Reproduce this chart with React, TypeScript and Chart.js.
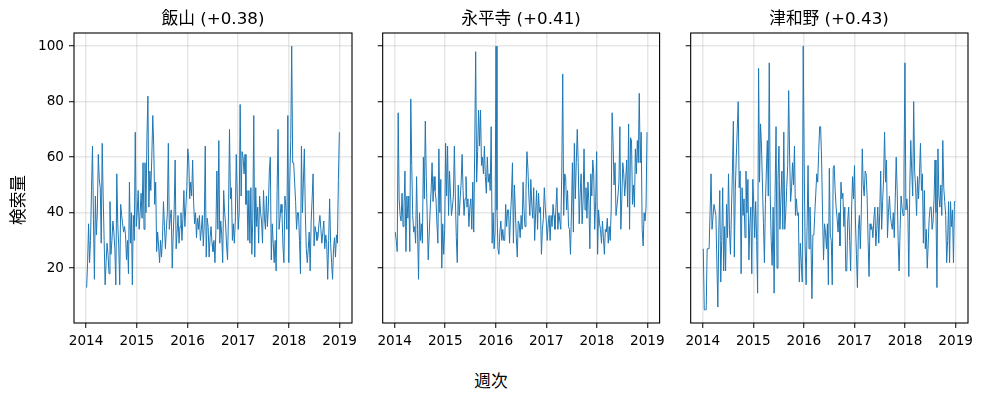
import { useEffect, useRef } from "react";
import { Chart, registerables } from "chart.js";

Chart.register(...registerables);

const FONT = '"DejaVu Sans", "Noto Sans CJK JP", sans-serif';

// weekly search volume, first week starting 2014-01-05
const firstWeek = "2014-01-05";
const yearTicks = [2014, 2015, 2016, 2017, 2018, 2019];
const volumeTicks = [20, 40, 60, 80, 100];

const titles = ["飯山 (+0.38)", "永平寺 (+0.41)", "津和野 (+0.43)"];

const iiyama = [
  13, 22, 36, 22, 30, 48, 64, 38, 16, 46, 32, 40, 61, 52, 49, 29, 65, 46, 30, 14,
  22, 29, 25, 18, 44, 25, 30, 37, 33, 27, 14, 54, 36, 28, 14, 43, 39, 36, 33, 35,
  32, 23, 30, 18, 51, 29, 40, 14, 39, 30, 69, 35, 40, 48, 34, 40, 47, 38, 58, 34,
  58, 40, 67, 82, 42, 55, 48, 60, 75, 64, 43, 51, 26, 33, 28, 22, 30, 24, 31, 44,
  35, 27, 34, 40, 65, 34, 38, 41, 20, 32, 41, 59, 27, 33, 39, 29, 35, 40, 30, 38,
  48, 35, 42, 49, 63, 59, 45, 51, 46, 59, 44, 36, 40, 31, 38, 34, 39, 30, 34, 39,
  28, 36, 64, 24, 38, 35, 24, 31, 35, 29, 26, 30, 22, 34, 55, 34, 66, 29, 37, 32,
  22, 48, 40, 36, 28, 23, 40, 70, 45, 49, 30, 36, 29, 37, 61, 46, 34, 40, 79, 46,
  62, 60, 54, 61, 43, 48, 30, 48, 29, 49, 25, 38, 75, 24, 49, 35, 42, 29, 46, 40,
  37, 29, 48, 38, 34, 46, 35, 42, 55, 60, 23, 36, 29, 22, 30, 19, 48, 70, 34, 38,
  43, 40, 28, 22, 46, 42, 34, 75, 22, 51, 66, 100, 58, 58, 51, 44, 34, 40, 40, 30,
  18, 64, 40, 51, 63, 40, 27, 22, 27, 33, 19, 37, 45, 54, 28, 35, 33, 30, 31, 36,
  39, 34, 29, 33, 37, 27, 32, 29, 16, 30, 45, 29, 22, 16, 27, 31, 24, 32, 29, 52,
  69,
];

const eiheiji = [
  33, 30, 26, 76, 45, 39, 37, 47, 35, 42, 55, 26, 46, 38, 46, 26, 81, 57, 39, 33,
  35, 29, 53, 34, 16, 40, 30, 36, 29, 60, 45, 73, 53, 38, 23, 32, 41, 48, 58, 44,
  53, 48, 45, 36, 29, 63, 40, 52, 20, 36, 25, 34, 65, 46, 64, 39, 55, 47, 39, 42,
  46, 64, 46, 31, 22, 50, 39, 45, 51, 61, 48, 39, 45, 53, 42, 45, 35, 42, 45, 34,
  51, 33, 63, 98, 51, 62, 77, 64, 77, 57, 60, 54, 64, 53, 47, 60, 51, 54, 48, 71,
  29, 40, 27, 33, 100, 41, 27, 25, 33, 37, 30, 34, 30, 30, 43, 35, 41, 41, 29, 39,
  46, 58, 29, 50, 41, 31, 24, 37, 36, 31, 39, 34, 51, 41, 35, 48, 62, 56, 46, 39,
  52, 43, 38, 49, 30, 40, 48, 34, 47, 40, 42, 25, 34, 38, 49, 42, 37, 30, 36, 39,
  30, 39, 35, 43, 39, 34, 42, 49, 34, 40, 37, 34, 54, 90, 39, 54, 53, 41, 48, 35,
  34, 25, 40, 58, 33, 65, 45, 58, 70, 58, 36, 47, 54, 36, 44, 63, 41, 49, 38, 51,
  44, 27, 54, 46, 59, 54, 34, 44, 62, 25, 41, 36, 34, 29, 37, 31, 25, 34, 33, 38,
  29, 35, 30, 41, 76, 65, 50, 58, 39, 39, 46, 51, 71, 34, 45, 58, 54, 46, 52, 59,
  42, 72, 34, 67, 66, 43, 50, 42, 63, 54, 66, 58, 83, 58, 69, 34, 28, 40, 37, 42,
  69,
];

const tsuwano = [
  27, 5, 5, 5, 27, 27, 27, 40, 54, 34, 34, 43, 41, 39, 22, 6, 33, 48, 15, 30,
  49, 19, 35, 19, 43, 31, 54, 34, 25, 40, 55, 73, 24, 48, 60, 70, 80, 49, 55, 18,
  49, 39, 45, 31, 55, 40, 52, 23, 36, 42, 18, 52, 43, 31, 44, 30, 11, 92, 51, 72,
  64, 50, 36, 22, 43, 55, 66, 46, 94, 46, 30, 21, 42, 11, 47, 71, 20, 52, 64, 34,
  45, 55, 34, 69, 34, 40, 49, 57, 84, 60, 44, 49, 58, 50, 64, 39, 45, 39, 40, 15,
  29, 22, 15, 100, 58, 28, 14, 35, 57, 27, 42, 30, 9, 32, 32, 40, 47, 54, 51, 62,
  71, 71, 59, 39, 23, 36, 33, 27, 36, 14, 56, 32, 30, 14, 56, 57, 48, 42, 38, 33,
  40, 28, 51, 45, 47, 35, 42, 19, 19, 37, 42, 30, 19, 41, 53, 45, 57, 37, 25, 13,
  34, 39, 27, 40, 63, 50, 46, 55, 54, 46, 30, 17, 36, 34, 35, 31, 38, 42, 28, 34,
  42, 29, 40, 55, 34, 44, 52, 69, 51, 59, 31, 40, 46, 39, 36, 34, 40, 31, 45, 60,
  48, 30, 19, 34, 46, 42, 39, 55, 94, 41, 45, 40, 17, 49, 66, 55, 46, 80, 55, 49,
  39, 53, 45, 54, 65, 48, 54, 29, 48, 27, 34, 20, 29, 38, 42, 42, 34, 37, 45, 59,
  40, 13, 63, 46, 42, 50, 39, 66, 49, 44, 39, 22, 30, 44, 22, 44, 35, 41, 22, 44,
  44,
];

const series = [iiyama, eiheiji, tsuwano];

// week start dates -> decimal years for the linear x axis
function toDecimalYear(t: number) {
  const y = new Date(t).getUTCFullYear();
  const start = Date.UTC(y, 0, 1);
  const end = Date.UTC(y + 1, 0, 1);
  return y + (t - start) / (end - start);
}
const t0 = Date.parse(firstWeek + "T00:00:00Z");
const weeks = iiyama.map((_, i) => toDecimalYear(t0 + i * 7 * 86400000));

const xSpan = weeks[weeks.length - 1] - weeks[0];
const xMin = weeks[0] - xSpan * 0.05;
const xMax = weeks[weeks.length - 1] + xSpan * 0.05;
const allValues = [...iiyama, ...eiheiji, ...tsuwano];
const yLo = Math.min(...allValues);
const yHi = Math.max(...allValues);
const yMin = yLo - (yHi - yLo) * 0.05;
const yMax = yHi + (yHi - yLo) * 0.05;

// canvas placement so the plot areas line up like the subplots
const panels = [
  { left: 0, width: 370, axisWidth: 74, padRight: 18 },
  { left: 372, width: 298, axisWidth: 10, padRight: 10 },
  { left: 680, width: 302, axisWidth: 10, padRight: 14 },
];
const CANVAS_H = 353;
const PLOT_TOP = 33;
const X_AXIS_H = 30;

const framePlugin = {
  id: "frame",
  afterDraw(chart: any) {
    const { ctx, chartArea: a } = chart;
    ctx.save();
    ctx.strokeStyle = "#000";
    ctx.lineWidth = 1.1;
    ctx.strokeRect(a.left, a.top, a.right - a.left, a.bottom - a.top);
    ctx.restore();
  },
};

function Panel({ index }: { index: number }) {
  const ref = useRef<HTMLCanvasElement | null>(null);
  const p = panels[index];

  useEffect(() => {
    if (!ref.current) return;
    const showY = index === 0;
    const grid = {
      color: "rgba(176,176,176,0.3)",
      lineWidth: 1.5,
      drawTicks: true,
      tickLength: 5,
      tickColor: "#000",
      tickWidth: 1,
    };
    const chart = new Chart(ref.current, {
      type: "line",
      data: {
        datasets: [
          {
            data: series[index].map((v, i) => ({ x: weeks[i], y: v })),
            borderColor: "#1f77b4",
            borderWidth: 1,
            pointRadius: 0,
            tension: 0,
            fill: false,
          },
        ],
      },
      options: {
        responsive: false,
        animation: false,
        events: [],
        layout: { padding: { top: PLOT_TOP, right: p.padRight, left: 0, bottom: 0 } },
        plugins: { legend: { display: false }, tooltip: { enabled: false } },
        scales: {
          x: {
            type: "linear",
            min: xMin,
            max: xMax,
            afterBuildTicks: (s: any) => {
              s.ticks = yearTicks.map((v) => ({ value: v }));
            },
            afterFit: (s: any) => {
              s.height = X_AXIS_H;
            },
            grid,
            border: { display: false },
            ticks: {
              autoSkip: false,
              maxRotation: 0,
              padding: 5,
              color: "#000",
              font: { family: FONT, size: 13.6 },
              callback: (v: any) => String(v),
            },
          },
          y: {
            type: "linear",
            min: yMin,
            max: yMax,
            afterBuildTicks: (s: any) => {
              s.ticks = volumeTicks.map((v) => ({ value: v }));
            },
            afterFit: (s: any) => {
              s.width = p.axisWidth;
            },
            grid,
            border: { display: false },
            ticks: {
              padding: 5,
              color: "#000",
              font: { family: FONT, size: 13.6 },
              callback: (v: any) => (showY ? String(v) : ""),
            },
          },
        },
      },
      plugins: [framePlugin],
    });
    return () => chart.destroy();
  }, [index]);

  return (
    <canvas
      ref={ref}
      width={p.width}
      height={CANVAS_H}
      style={{ position: "absolute", left: p.left, top: 0, width: p.width, height: CANVAS_H }}
    />
  );
}

const titleCenters = [213, 521, 829];

export default function App() {
  const text = { position: "absolute" as const, fontFamily: FONT, fontSize: 16.7, color: "#000", whiteSpace: "nowrap" as const, lineHeight: "20px" };
  return (
    <div style={{ position: "absolute", left: 0, top: 0, width: 982, height: 401, background: "#fff", overflow: "hidden" }}>
      {panels.map((_, i) => (
        <Panel key={i} index={i} />
      ))}
      {titles.map((t, i) => (
        <div key={t} style={{ ...text, left: titleCenters[i], top: 8, transform: "translateX(-50%)" }}>
          {t}
        </div>
      ))}
      <div style={{ ...text, left: 18, top: 200, transform: "translate(-50%, -50%) rotate(-90deg)" }}>検索量</div>
      <div style={{ ...text, left: 491, top: 381, transform: "translate(-50%, -50%)" }}>週次</div>
    </div>
  );
}
